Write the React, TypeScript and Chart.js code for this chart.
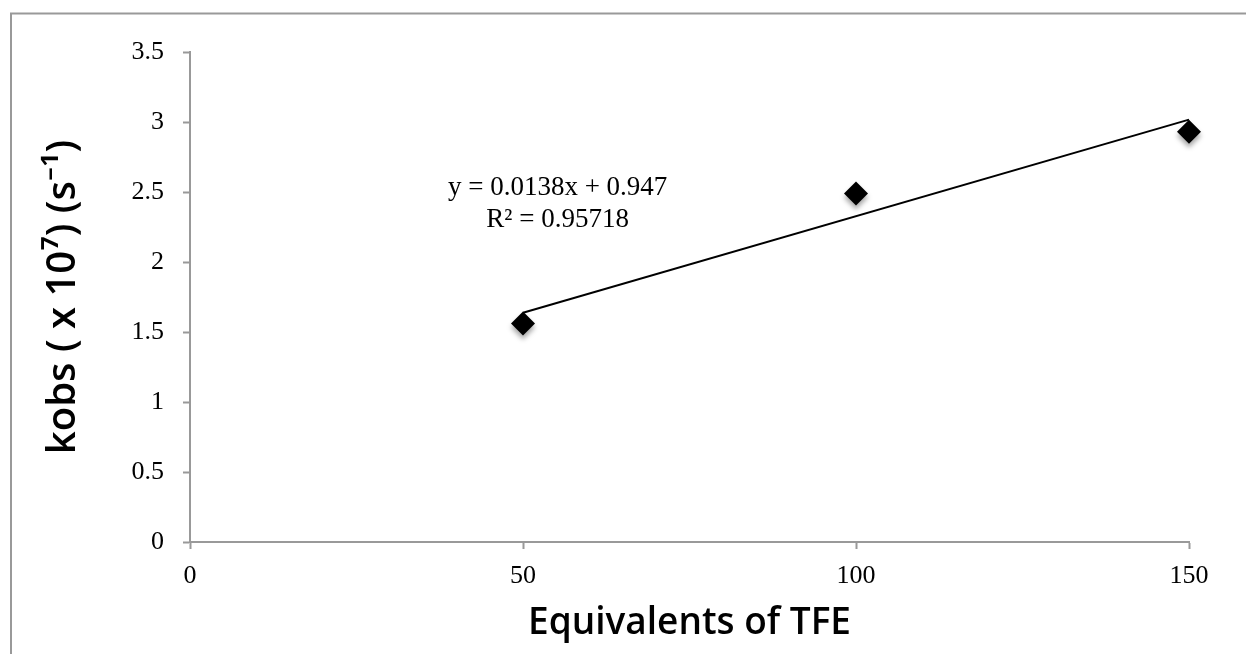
import React, { useEffect, useRef } from "react";
import { Chart, registerables } from "chart.js";

Chart.register(...registerables);

// ---- data ----
const equivalents = [50, 100, 150];
const kobs = [1.56, 2.49, 2.93];
const trendX = [50, 150];
const trendY = [1.637, 3.017];
const xTicks = [0, 50, 100, 150];
const yTicks = [0, 0.5, 1, 1.5, 2, 2.5, 3, 3.5];
const equationLines = ["y = 0.0138x + 0.947", "R\u00B2 = 0.95718"];
const equationAnchor = [55.2, 2.53];
const xTitle = "Equivalents of TFE";
const yTitle = "kobs ( x 10\u2077) (s\u207B\u00B9)";

const W = 1246;
const H = 654;
const AXIS = "#999999";
const SERIF = "'Liberation Serif', 'Times New Roman', serif";
const SANS = "'Open Sans', 'Noto Sans', sans-serif";

export default function App() {
  const ref = useRef<HTMLCanvasElement | null>(null);

  useEffect(() => {
    if (!ref.current) return;

    const framePlugin = {
      id: "frame",
      beforeDraw(chart: any) {
        const ctx = chart.ctx;
        ctx.save();
        ctx.fillStyle = "#ffffff";
        ctx.fillRect(0, 0, chart.width, chart.height);
        ctx.strokeStyle = AXIS;
        ctx.lineWidth = 2;
        ctx.beginPath();
        ctx.moveTo(11, chart.height);
        ctx.lineTo(11, 13.5);
        ctx.lineTo(chart.width, 13.5);
        ctx.stroke();
        ctx.restore();
      },
    };

    const shadowPlugin = {
      id: "pointShadow",
      beforeDatasetDraw(chart: any, args: any) {
        if (args.index !== 1) return;
        const ctx = chart.ctx;
        ctx.save();
        ctx.shadowColor = "rgba(0,0,0,0.35)";
        ctx.shadowBlur = 5;
        ctx.shadowOffsetX = 0;
        ctx.shadowOffsetY = 4;
      },
      afterDatasetDraw(chart: any, args: any) {
        if (args.index !== 1) return;
        chart.ctx.restore();
      },
    };

    const equationPlugin = {
      id: "equation",
      afterDatasetsDraw(chart: any) {
        const ctx = chart.ctx;
        const x = chart.scales.x.getPixelForValue(equationAnchor[0]);
        const y = chart.scales.y.getPixelForValue(equationAnchor[1]);
        ctx.save();
        ctx.font = `27px ${SERIF}`;
        ctx.fillStyle = "#000000";
        ctx.textAlign = "center";
        ctx.textBaseline = "middle";
        equationLines.forEach((line, i) => ctx.fillText(line, x, y + i * 32));
        ctx.restore();
      },
    };

    const chart = new Chart(ref.current, {
      type: "scatter",
      data: {
        datasets: [
          {
            type: "line",
            label: "Linear trend",
            data: trendX.map((x, i) => ({ x, y: trendY[i] })),
            borderColor: "#000000",
            borderWidth: 2,
            pointRadius: 0,
            fill: false,
            showLine: true,
            clip: false,
          } as any,
          {
            label: "kobs",
            data: equivalents.map((x, i) => ({ x, y: kobs[i] })),
            pointStyle: "rectRot",
            pointRadius: 12,
            backgroundColor: "#000000",
            borderColor: "#000000",
            borderWidth: 0,
            clip: false,
          } as any,
        ],
      },
      options: {
        animation: false,
        responsive: false,
        layout: { padding: { left: 0, top: 52, right: 57, bottom: 0 } },
        plugins: {
          legend: { display: false },
          tooltip: { enabled: false },
        },
        scales: {
          x: {
            type: "linear",
            min: 0,
            max: 150,
            afterBuildTicks: (s: any) => {
              s.ticks = xTicks.map((v) => ({ value: v }));
            },
            afterFit: (s: any) => {
              s.height = 112;
            },
            grid: {
              drawOnChartArea: false,
              drawTicks: true,
              tickLength: 7,
              tickWidth: 2,
              color: AXIS,
            },
            border: { display: true, color: AXIS, width: 2 },
            ticks: {
              color: "#000000",
              font: { family: SERIF, size: 26 },
              padding: 12,
              maxRotation: 0,
              callback: (v: any) => String(v),
            },
            title: {
              display: true,
              text: xTitle,
              color: "#000000",
              font: { family: SANS, size: 37, weight: "600" },
              padding: { top: 0, bottom: 8 },
            },
          },
          y: {
            type: "linear",
            min: 0,
            max: 3.5,
            afterBuildTicks: (s: any) => {
              s.ticks = yTicks.map((v) => ({ value: v }));
            },
            afterFit: (s: any) => {
              s.width = 190;
            },
            grid: {
              drawOnChartArea: false,
              drawTicks: true,
              tickLength: 7,
              tickWidth: 2,
              color: AXIS,
            },
            border: { display: true, color: AXIS, width: 2 },
            ticks: {
              color: "#000000",
              font: { family: SERIF, size: 26 },
              padding: 19,
              callback: (v: any) => String(v),
            },
            title: {
              display: true,
              text: yTitle,
              color: "#000000",
              font: { family: SANS, size: 40, weight: "600" },
              padding: { top: 40, bottom: 0 },
            },
          },
        },
      },
      plugins: [framePlugin, shadowPlugin, equationPlugin],
    });

    return () => chart.destroy();
  }, []);

  return (
    <div style={{ position: "absolute", left: 0, top: 0, width: W, height: H, background: "#fff" }}>
      <canvas ref={ref} width={W} height={H} style={{ display: "block", width: W, height: H }} />
    </div>
  );
}
